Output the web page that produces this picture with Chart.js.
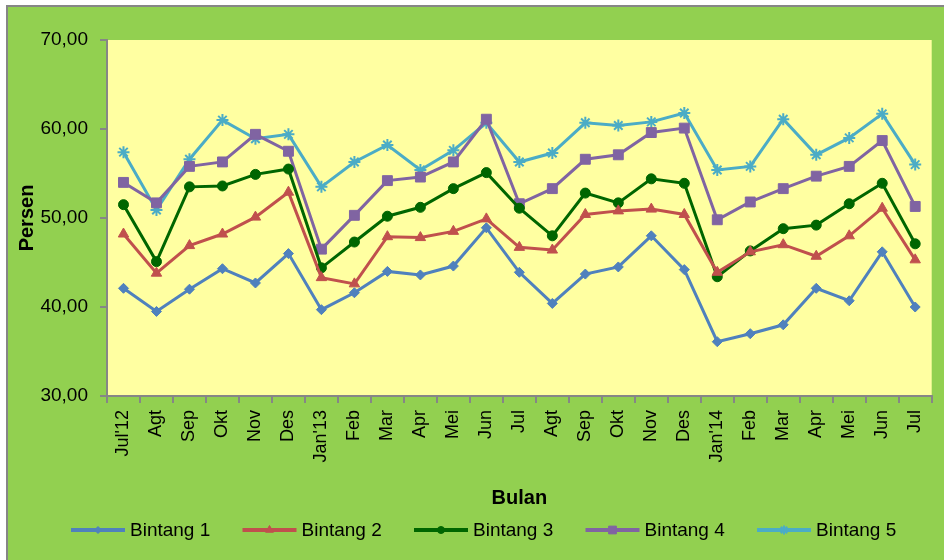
<!DOCTYPE html>
<html>
<head>
<meta charset="utf-8">
<script src="https://cdn.jsdelivr.net/npm/chart.js@4/dist/chart.umd.min.js"></script>
<style>
  html, body { margin: 0; padding: 0; background: #fff; }
  canvas { display: block; }
</style>
</head>
<body>
<canvas id="chart" width="944" height="560"></canvas>
<script>
// Months (Jul 2012 - Jul 2014)
const bulan = ["Jul'12", "Agt", "Sep", "Okt", "Nov", "Des", "Jan'13", "Feb", "Mar", "Apr", "Mei", "Jun",
               "Jul", "Agt", "Sep", "Okt", "Nov", "Des", "Jan'14", "Feb", "Mar", "Apr", "Mei", "Jun", "Jul"];

// Values per hotel class (persen)
const bintang1 = [42.1, 39.5, 42.0, 44.3, 42.7, 46.0, 39.7, 41.6, 44.0, 43.6, 44.6, 48.9, 43.9,
                  40.4, 43.7, 44.5, 48.0, 44.2, 36.1, 37.0, 38.0, 42.1, 40.7, 46.2, 40.0];
const bintang2 = [48.2, 43.8, 46.9, 48.2, 50.1, 52.9, 43.3, 42.6, 47.9, 47.8, 48.5, 49.9, 46.7,
                  46.4, 50.4, 50.8, 51.0, 50.4, 43.9, 46.2, 47.0, 45.7, 48.0, 51.1, 45.3];
const bintang3 = [51.5, 45.1, 53.5, 53.6, 54.9, 55.5, 44.4, 47.3, 50.2, 51.2, 53.3, 55.1, 51.1,
                  48.0, 52.8, 51.7, 54.4, 53.9, 43.4, 46.3, 48.8, 49.2, 51.6, 53.9, 47.1];
const bintang4 = [54.0, 51.7, 55.8, 56.3, 59.4, 57.5, 46.5, 50.3, 54.2, 54.6, 56.3, 61.1, 51.6,
                  53.3, 56.6, 57.1, 59.6, 60.1, 49.8, 51.8, 53.3, 54.7, 55.8, 58.7, 51.3];
const bintang5 = [57.4, 50.9, 56.6, 61.0, 58.9, 59.4, 53.5, 56.3, 58.2, 55.4, 57.6, 60.7, 56.3,
                  57.3, 60.7, 60.4, 60.8, 61.8, 55.4, 55.8, 61.1, 57.1, 59.0, 61.7, 56.0];

const seriesNames = ["Bintang 1", "Bintang 2", "Bintang 3", "Bintang 4", "Bintang 5"];
const yTickLabels = ["30,00", "40,00", "50,00", "60,00", "70,00"];

const FONT = "'Liberation Sans', Arial, sans-serif";
const axisGray = "#868686";

function makeSet(label, data, color, style, radius) {
    return {
        label: label,
        data: data,
        borderColor: color,
        backgroundColor: color,
        borderWidth: 3,
        pointStyle: style,
        pointRadius: radius,
        pointBorderWidth: style === "star" ? 2 : 1,
        pointBackgroundColor: color,
        pointBorderColor: color,
        tension: 0
    };
}

const sets = [
    makeSet(seriesNames[0], bintang1, "#4F81BD", "rectRot", 5),
    makeSet(seriesNames[1], bintang2, "#C0504D", "triangle", 6),
    makeSet(seriesNames[2], bintang3, "#006600", "circle", 5),
    makeSet(seriesNames[3], bintang4, "#8064A2", "rect", 7),
    makeSet(seriesNames[4], bintang5, "#4BACC6", "star", 6)
];

// page + plot background
const backgrounds = {
    id: "backgrounds",
    beforeDraw(chart) {
        const ctx = chart.ctx;
        const a = chart.chartArea;
        ctx.save();
        ctx.fillStyle = "#ffffff";
        ctx.fillRect(0, 0, chart.width, chart.height);
        ctx.fillStyle = "#92D050";
        ctx.fillRect(7, 6, chart.width - 7, chart.height - 6);
        ctx.strokeStyle = axisGray;
        ctx.lineWidth = 2;
        ctx.beginPath();
        ctx.moveTo(7, chart.height);
        ctx.lineTo(7, 6);
        ctx.lineTo(chart.width, 6);
        ctx.stroke();
        ctx.fillStyle = "#FFFFA1";
        ctx.fillRect(a.left, a.top, a.right - a.left, a.bottom - a.top);
        ctx.restore();
    }
};

// legend drawn as line + marker like the original
const lineLegend = {
    id: "lineLegend",
    afterDraw(chart) {
        const ctx = chart.ctx;
        const y = 530;
        ctx.save();
        ctx.font = "19px " + FONT;
        ctx.textBaseline = "middle";
        chart.data.datasets.forEach((ds, i) => {
            const x0 = 71 + i * 171.5;
            ctx.strokeStyle = ds.borderColor;
            ctx.lineWidth = 4;
            ctx.beginPath();
            ctx.moveTo(x0, y);
            ctx.lineTo(x0 + 54, y);
            ctx.stroke();
            ctx.fillStyle = ds.borderColor;
            ctx.lineWidth = ds.pointBorderWidth;
            Chart.helpers.drawPoint(ctx, { pointStyle: ds.pointStyle, radius: ds.pointRadius - 1.5, borderWidth: ds.pointBorderWidth, rotation: 0 }, x0 + 27, y);
            ctx.fillStyle = "#000";
            ctx.fillText(ds.label, x0 + 59, y + 1);
        });
        ctx.restore();
    }
};

new Chart(document.getElementById("chart").getContext("2d"), {
    type: "line",
    data: { labels: bulan, datasets: sets },
    options: {
        responsive: false,
        animation: false,
        layout: { padding: { left: 8, top: 40, right: 10, bottom: 50 } },
        plugins: {
            legend: { display: false },
            tooltip: { enabled: false }
        },
        scales: {
            x: {
                offset: true,
                grid: { drawOnChartArea: false, color: axisGray, lineWidth: 2, tickLength: 7, offset: true },
                border: { color: axisGray, width: 2 },
                ticks: {
                    autoSkip: false, maxRotation: 90, minRotation: 90, padding: 7,
                    color: "#000", font: { family: FONT, size: 18 }
                },
                title: {
                    display: true, text: "Bulan", color: "#000",
                    font: { family: FONT, size: 20, weight: "bold" }, padding: { top: 6, bottom: 0 }
                },
                afterFit(scale) { scale.height = 114; }
            },
            y: {
                min: 30, max: 70,
                ticks: {
                    stepSize: 10, padding: 12, color: "#000",
                    font: { family: FONT, size: 19 },
                    callback: (v, i) => yTickLabels[i]
                },
                grid: { drawOnChartArea: false, color: axisGray, lineWidth: 2, tickLength: 7 },
                border: { color: axisGray, width: 2 },
                title: {
                    display: true, text: "Persen", color: "#000",
                    font: { family: FONT, size: 20, weight: "bold" }, padding: { top: 7, bottom: 0 }
                },
                afterFit(scale) { scale.width = 99; }
            }
        }
    },
    plugins: [backgrounds, lineLegend]
});
</script>
</body>
</html>
